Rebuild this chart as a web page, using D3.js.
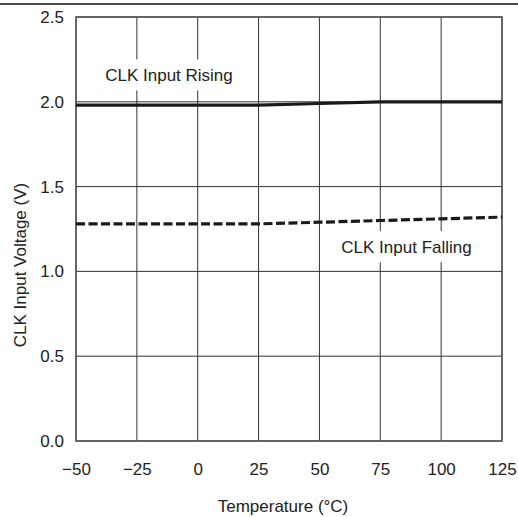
<!DOCTYPE html>
<html>
<head>
<meta charset="utf-8">
<script src="https://cdn.jsdelivr.net/npm/d3@7"></script>
<style>
  body { margin: 0; background: #fff; }
  text { font-family: "Liberation Sans", Arial, sans-serif; fill: #222; }
</style>
</head>
<body>
<svg id="chart"></svg>
<script>
// data
const temps = [-50, -25, 0, 25, 50, 75, 100, 125];
const rising = [1.98, 1.98, 1.98, 1.98, 1.99, 2.0, 2.0, 2.0];
const falling = [1.28, 1.28, 1.28, 1.28, 1.29, 1.30, 1.31, 1.32];
const xTicks = [-50, -25, 0, 25, 50, 75, 100, 125];
const yTicks = [0, 0.5, 1.0, 1.5, 2.0, 2.5];

const W = 518, H = 517;
const margin = { top: 17, right: 16, bottom: 76, left: 76 };
const width = W - margin.left - margin.right;
const height = H - margin.top - margin.bottom;
const fs = "17px";

const svg = d3.select("#chart").attr("width", W).attr("height", H);

// rule across the top
svg.append("line")
    .attr("x1", 0).attr("x2", W)
    .attr("y1", 4).attr("y2", 4)
    .attr("stroke", "#111").attr("stroke-width", 1.5);

const g = svg.append("g")
    .attr("transform", "translate(" + margin.left + "," + margin.top + ")");

const x = d3.scaleLinear().domain([-50, 125]).range([0, width]);
const y = d3.scaleLinear().domain([0, 2.5]).range([height, 0]);

// grid
g.append("g").selectAll("line").data(xTicks).join("line")
    .attr("x1", d => x(d)).attr("x2", d => x(d))
    .attr("y1", 0).attr("y2", height)
    .attr("stroke", "#333").attr("stroke-width", 1);
g.append("g").selectAll("line").data(yTicks).join("line")
    .attr("x1", 0).attr("x2", width)
    .attr("y1", d => y(d)).attr("y2", d => y(d))
    .attr("stroke", "#333").attr("stroke-width", 1);

g.append("rect")
    .attr("width", width).attr("height", height)
    .attr("fill", "none").attr("stroke", "#555").attr("stroke-width", 1.5);

// tick labels
g.append("g")
    .attr("transform", "translate(0," + height + ")")
    .call(d3.axisBottom(x).tickValues(xTicks).tickSize(0).tickPadding(22)
        .tickFormat(d => d < 0 ? "\u2212" + Math.abs(d) : d))
    .call(a => a.select(".domain").remove())
    .selectAll("text")
    .style("font-size", fs).style("font-family", "Liberation Sans, Arial, sans-serif");

g.append("g")
    .call(d3.axisLeft(y).tickValues(yTicks).tickSize(0).tickPadding(12)
        .tickFormat(d3.format(".1f")))
    .call(a => a.select(".domain").remove())
    .selectAll("text")
    .style("font-size", fs).style("font-family", "Liberation Sans, Arial, sans-serif");

// axis titles
svg.append("text")
    .attr("x", 283).attr("y", 512)
    .attr("text-anchor", "middle")
    .style("font-size", fs)
    .text("Temperature (\u00B0C)");

svg.append("text")
    .attr("transform", "translate(26,265) rotate(-90)")
    .attr("text-anchor", "middle")
    .style("font-size", fs)
    .text("CLK Input Voltage (V)");

// series
const line = d3.line()
    .x((d, i) => x(temps[i]))
    .y(d => y(d));

g.append("path")
    .datum(rising)
    .attr("fill", "none")
    .attr("stroke", "#1a1a1a")
    .attr("stroke-width", 3.2)
    .attr("d", line);

g.append("path")
    .datum(falling)
    .attr("fill", "none")
    .attr("stroke", "#1a1a1a")
    .attr("stroke-width", 3.2)
    .attr("stroke-dasharray", "9,3.5")
    .attr("d", line);

// labels with white boxes over the grid
function label(tx, ty, txt, padL, padR) {
    const grp = g.append("g");
    const r = grp.append("rect").attr("fill", "#fff");
    const t = grp.append("text")
        .attr("x", x(tx)).attr("y", y(ty))
        .style("font-size", fs)
        .text(txt);
    const b = t.node().getBBox();
    r.attr("x", b.x - padL).attr("y", b.y - 7)
        .attr("width", b.width + padL + padR).attr("height", b.height + 12);
}
label(-38, 2.12, "CLK Input Rising", 9, 8);
label(59, 1.108, "CLK Input Falling", 19, 8);
</script>
</body>
</html>
